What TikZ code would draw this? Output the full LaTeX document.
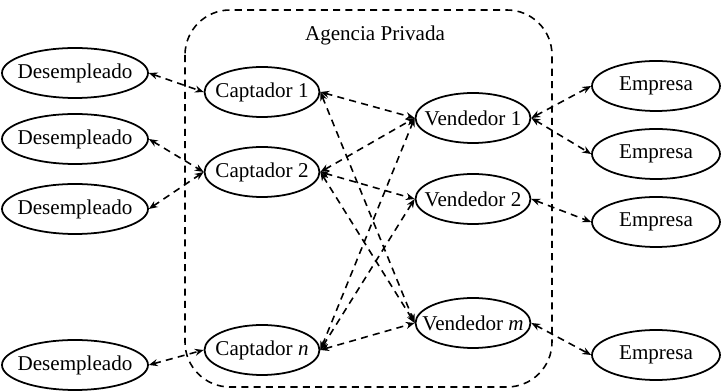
\documentclass[tikz,border=0pt]{standalone}
\usepackage{fontspec}
\setmainfont{Liberation Serif}
\usetikzlibrary{shapes.geometric,arrows.meta}

\tikzset{
    actor/.style={draw,ellipse,line width=1pt,inner ysep=0pt,inner xsep=-12pt,
        minimum width=2.92cm,minimum height=1cm,font=\fontsize{12}{14}\selectfont},
    link/.style={{Stealth[length=5pt,width=4pt]}-{Stealth[length=5pt,width=4pt]},
        line width=0.9pt,dash pattern=on 4pt off 3pt}
}

\begin{document}
\begin{tikzpicture}[x=0.02cm,y=-0.02cm]
    \useasboundingbox (0,0) rectangle (721,391);

    % agencia
    \draw[line width=0.9pt,dash pattern=on 4pt off 3pt,rounded corners=0.9cm]
        (185,10) rectangle (552,387);
    \node[font=\fontsize{12}{14}\selectfont] (agencia) at (375,35) {Agencia Privada};

    % desempleados
    \node[actor] (d1) at (75,73) {Desempleado};
    \node[actor] (d2) at (75,139) {Desempleado};
    \node[actor] (d3) at (75,209) {Desempleado};
    \node[actor] (d4) at (75,365) {Desempleado};

    % captadores
    \node[actor,minimum width=2.3cm] (c1) at (262,92) {Captador 1};
    \node[actor,minimum width=2.3cm] (c2) at (262,172) {Captador 2};
    \node[actor,minimum width=2.3cm] (cn) at (262,350) {Captador \textit{n}};

    % vendedores
    \node[actor,minimum width=2.3cm] (v1) at (473,118) {Vendedor 1};
    \node[actor,minimum width=2.3cm] (v2) at (473,199) {Vendedor 2};
    \node[actor,minimum width=2.3cm] (vm) at (473,323) {Vendedor \textit{m}};

    % empresas
    \node[actor,minimum width=2.56cm] (e1) at (656,86) {Empresa};
    \node[actor,minimum width=2.56cm] (e2) at (656,154) {Empresa};
    \node[actor,minimum width=2.56cm] (e3) at (656,222) {Empresa};
    \node[actor,minimum width=2.56cm] (e4) at (656,355) {Empresa};

    \draw[link] (d1.east) -- (c1.west);
    \draw[link] (d2.east) -- (c2.west);
    \draw[link] (d3.east) -- (c2.west);
    \draw[link] (d4.east) -- (cn.west);

    \draw[link] (c1.east) -- (v1.west);
    \draw[link] (c1.east) -- (vm.west);
    \draw[link] (c2.east) -- (v1.west);
    \draw[link] (c2.east) -- (v2.west);
    \draw[link] (c2.east) -- (vm.west);
    \draw[link] (cn.east) -- (v1.west);
    \draw[link] (cn.east) -- (v2.west);
    \draw[link] (cn.east) -- (vm.west);

    \draw[link] (v1.east) -- (e1.west);
    \draw[link] (v1.east) -- (e2.west);
    \draw[link] (v2.east) -- (e3.west);
    \draw[link] (vm.east) -- (e4.west);
\end{tikzpicture}
\end{document}
